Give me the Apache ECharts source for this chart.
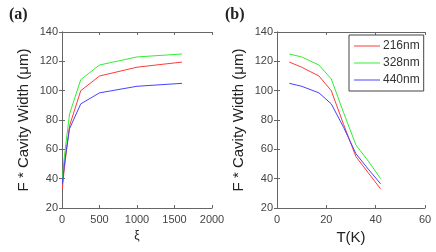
<!DOCTYPE html>
<html><head><meta charset="utf-8">
<script src="https://cdn.jsdelivr.net/npm/echarts@6/dist/echarts.min.js"></script>
<style>html,body{margin:0;padding:0;background:#fff}#c{width:436px;height:252px}</style>
</head><body><div id="c"></div>
<script>
// Panel (a): x quantity
const xA = [5, 25, 50, 100, 250, 500, 1000, 1600];
const redA = [33, 44, 55, 76, 100, 110, 116, 119.5];
const greenA = [40, 52, 63, 84, 107.5, 117.5, 123, 125];
const blueA = [36.5, 46.5, 57, 74, 91, 98.5, 103, 105];
// Panel (b): temperature
const tempB = [5, 10, 17, 22, 27, 32, 37, 42];
const redB = [119.5, 116, 110, 100, 77, 55, 44, 33];
const greenB = [125, 123, 117.5, 108, 85, 63, 52, 40];
const blueB = [105, 103, 98.5, 91, 75, 57, 46.5, 36.5];
const seriesNames = ['216nm', '328nm', '440nm'];
const colors = ['#ff3b3b', '#33ee33', '#4444ff'];
const yTitle = 'F * Cavity Width (\u03bcm)';

const pairs = (xs, ys) => xs.map((x, i) => [x, ys[i]]);
const axisCol = '#666';
const lblStyle = {color: '#444', fontSize: 11, fontFamily: 'Liberation Sans, Arial, sans-serif', formatter: v => String(v)};

function xAxes(gi, max, interval, name, nameSize) {
  return [
    {gridIndex: gi, type: 'value', min: 0, max: max, interval: interval, position: 'bottom',
     axisLine: {show: true, lineStyle: {color: axisCol}}, axisTick: {inside: true, length: 3, lineStyle: {color: axisCol}},
     axisLabel: Object.assign({margin: 6}, lblStyle), splitLine: {show: false},
     name: name, nameLocation: 'middle', nameGap: 22,
     nameTextStyle: {color: '#222', fontSize: nameSize, fontFamily: 'Liberation Sans, Arial, sans-serif'}},
    {gridIndex: gi, type: 'value', min: 0, max: max, interval: interval, position: 'top',
     axisLine: {show: true, lineStyle: {color: axisCol}}, axisTick: {inside: true, length: 3, lineStyle: {color: axisCol}},
     axisLabel: {show: false}, splitLine: {show: false}}
  ];
}
function yAxes(gi) {
  return [
    {gridIndex: gi, type: 'value', min: 20, max: 140, interval: 20, position: 'left',
     axisLine: {show: true, lineStyle: {color: axisCol}}, axisTick: {inside: true, length: 3, lineStyle: {color: axisCol}},
     axisLabel: Object.assign({margin: 4}, lblStyle), splitLine: {show: false},
     name: yTitle, nameLocation: 'middle', nameGap: 31, nameRotate: 90,
     nameTextStyle: {color: '#222', fontSize: 15, fontFamily: 'Liberation Sans, Arial, sans-serif'}},
    {gridIndex: gi, type: 'value', min: 20, max: 140, interval: 20, position: 'right',
     axisLine: {show: true, lineStyle: {color: axisCol}}, axisTick: {inside: true, length: 3, lineStyle: {color: axisCol}},
     axisLabel: {show: false}, splitLine: {show: false}}
  ];
}

function mk(name, xs, ys, color, xi, yi) {
  return {name: name, type: 'line', xAxisIndex: xi, yAxisIndex: yi, data: pairs(xs, ys),
    showSymbol: false, symbol: 'none', lineStyle: {color: color, width: 1}, itemStyle: {color: color},
    animation: false};
}

const chart = echarts.init(document.getElementById('c'), null, {renderer: 'canvas'});
chart.setOption({
  backgroundColor: '#fff',
  animation: false,
  title: [
    {text: '(a)', left: 4, top: 2, textStyle: {fontFamily: 'Liberation Serif, Times New Roman, serif', fontSize: 16, fontWeight: 'bold', color: '#222'}},
    {text: '(b)', left: 220, top: 2, textStyle: {fontFamily: 'Liberation Serif, Times New Roman, serif', fontSize: 16, fontWeight: 'bold', color: '#222'}}
  ],
  grid: [
    {left: 62, top: 32, width: 150, height: 176, show: false},
    {left: 277, top: 32, width: 148, height: 176, show: false}
  ],
  xAxis: [].concat(xAxes(0, 2000, 500, '\u03be', 12), xAxes(1, 60, 20, 'T(K)', 15)),
  yAxis: [].concat(yAxes(0), yAxes(1)),
  legend: {
    data: seriesNames, orient: 'vertical', left: 349, top: 35,
    backgroundColor: '#fff', borderColor: '#444', borderWidth: 1, padding: [5, 4, 5, 5],
    itemWidth: 26, itemHeight: 1, itemGap: 5, icon: 'rect',
    textStyle: {color: '#333', fontSize: 12, fontFamily: 'Liberation Sans, Arial, sans-serif', padding: [0, 0, 0, -2]}
  },
  series: [
    mk(seriesNames[0], xA, redA, colors[0], 0, 0),
    mk(seriesNames[1], xA, greenA, colors[1], 0, 0),
    mk(seriesNames[2], xA, blueA, colors[2], 0, 0),
    mk(seriesNames[0], tempB, redB, colors[0], 2, 2),
    mk(seriesNames[1], tempB, greenB, colors[1], 2, 2),
    mk(seriesNames[2], tempB, blueB, colors[2], 2, 2)
  ]
});
</script></body></html>
